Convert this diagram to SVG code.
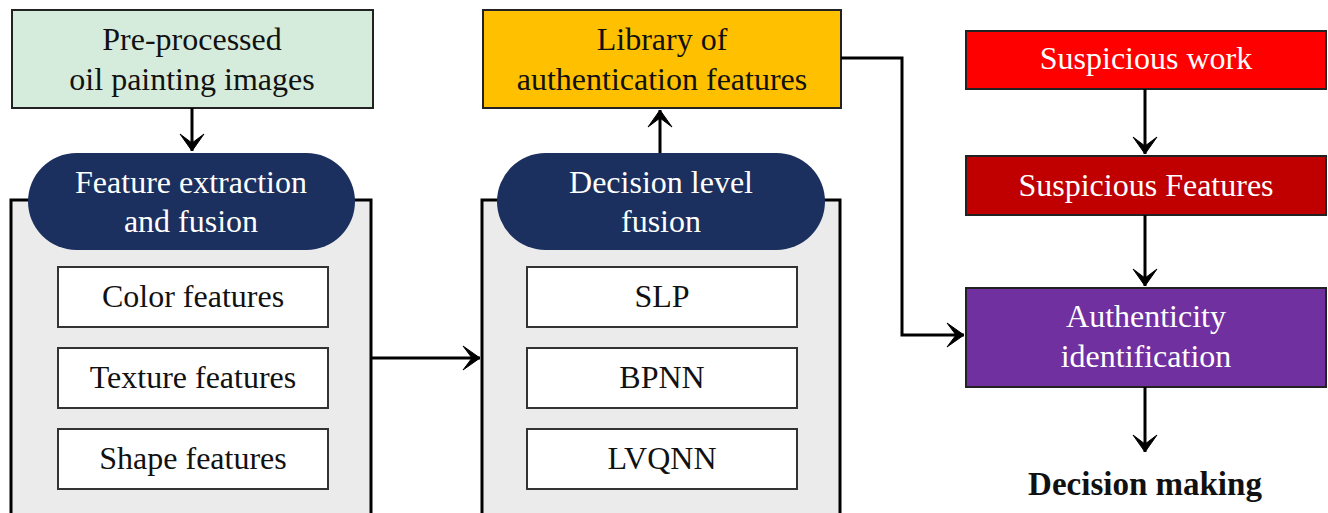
<svg xmlns="http://www.w3.org/2000/svg" width="1328" height="513" viewBox="0 0 1328 513">
  <style>
    .t { font-family: "Liberation Serif", "Times New Roman", serif; font-size: 32px; text-anchor: middle; fill: #111; }
    .w { fill: #ffffff; }
    .b { font-weight: bold; font-size: 33px; }
    .box { stroke: #222; stroke-width: 2; }
    .panel { fill: #ebebeb; stroke: #000; stroke-width: 3; }
    .item { fill: #ffffff; stroke: #333; stroke-width: 2; }
    .pill { fill: #1b305e; }
    .link { fill: none; stroke: #000; stroke-width: 3; }
  </style>
  <defs>
    <marker id="arrow" markerUnits="userSpaceOnUse" markerWidth="22" markerHeight="28" refX="0" refY="0" viewBox="-19 -14 21 28" orient="auto" overflow="visible">
      <path d="M0,0 L-17,-12 L-8,0 L-17,12 Z" fill="#000" stroke="#000" stroke-width="1" stroke-linejoin="miter"/>
    </marker>
  </defs>

  <rect width="1328" height="513" fill="#ffffff"/>

  <!-- left column: input and feature extraction -->
  <g id="input-images">
    <rect class="box" x="12" y="10" width="361" height="98" fill="#d5ecdc"/>
    <text class="t" x="192" y="50">Pre-processed</text>
    <text class="t" x="192" y="90">oil painting images</text>
  </g>

  <g id="feature-panel">
    <rect class="panel" x="11" y="200" width="360" height="330"/>
  </g>
  <g id="feature-title">
    <rect class="pill" x="28" y="153" width="327" height="97" rx="48.5"/>
    <text class="t w" x="191" y="193">Feature extraction</text>
    <text class="t w" x="191" y="232">and fusion</text>
  </g>
  <g id="color-features">
    <rect class="item" x="58" y="267" width="270" height="60"/>
    <text class="t" x="193" y="307">Color features</text>
  </g>
  <g id="texture-features">
    <rect class="item" x="58" y="348" width="270" height="60"/>
    <text class="t" x="193" y="388">Texture features</text>
  </g>
  <g id="shape-features">
    <rect class="item" x="58" y="429" width="270" height="60"/>
    <text class="t" x="193" y="469">Shape features</text>
  </g>

  <!-- middle column: decision fusion and feature library -->
  <g id="feature-library">
    <rect class="box" x="483" y="10" width="358" height="98" fill="#ffc000"/>
    <text class="t" x="662" y="50">Library of</text>
    <text class="t" x="662" y="90">authentication features</text>
  </g>

  <g id="decision-panel">
    <rect class="panel" x="482" y="200" width="358" height="330"/>
  </g>
  <g id="decision-title">
    <rect class="pill" x="497" y="153" width="328" height="97" rx="48.5"/>
    <text class="t w" x="661" y="193">Decision level</text>
    <text class="t w" x="661" y="232">fusion</text>
  </g>
  <g id="slp">
    <rect class="item" x="527" y="267" width="270" height="60"/>
    <text class="t" x="662" y="307">SLP</text>
  </g>
  <g id="bpnn">
    <rect class="item" x="527" y="348" width="270" height="60"/>
    <text class="t" x="662" y="388">BPNN</text>
  </g>
  <g id="lvqnn">
    <rect class="item" x="527" y="429" width="270" height="60"/>
    <text class="t" x="662" y="469">LVQNN</text>
  </g>

  <!-- right column: checking a suspicious work -->
  <g id="suspicious-work">
    <rect class="box" x="966" y="31" width="360" height="58" fill="#ff0000"/>
    <text class="t w" x="1146" y="69">Suspicious work</text>
  </g>
  <g id="suspicious-features">
    <rect class="box" x="966" y="156" width="360" height="59" fill="#c00000"/>
    <text class="t w" x="1146" y="196">Suspicious Features</text>
  </g>
  <g id="authenticity">
    <rect class="box" x="966" y="288" width="360" height="99" fill="#7030a0"/>
    <text class="t w" x="1146" y="327">Authenticity</text>
    <text class="t w" x="1146" y="367">identification</text>
  </g>
  <g id="decision-making">
    <text class="t b" x="1145" y="495">Decision making</text>
  </g>

  <!-- connectors -->
  <g id="connectors">
    <path class="link" d="M192,108 V151" marker-end="url(#arrow)"/>
    <path class="link" d="M371,358 H480" marker-end="url(#arrow)"/>
    <path class="link" d="M660,153 V110" marker-end="url(#arrow)"/>
    <path class="link" d="M841,58 H902 V335 H964" marker-end="url(#arrow)"/>
    <path class="link" d="M1145,89 V154" marker-end="url(#arrow)"/>
    <path class="link" d="M1145,215 V286" marker-end="url(#arrow)"/>
    <path class="link" d="M1145,387 V452" marker-end="url(#arrow)"/>
  </g>
</svg>
